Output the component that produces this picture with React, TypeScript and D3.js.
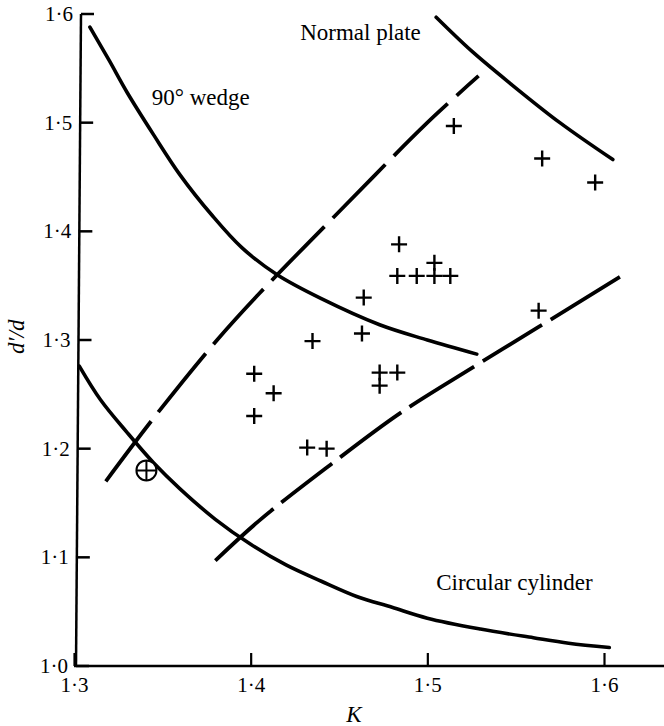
import React, { useEffect, useRef } from 'react';
import * as d3 from 'd3';

// K (x) against d'/d (y)
const xTicks = [1.3, 1.4, 1.5, 1.6];
const yTicks = [1.0, 1.1, 1.2, 1.3, 1.4, 1.5, 1.6];

const circularCylinder: [number, number][] = [
  [1.303, 1.276], [1.315, 1.245], [1.330, 1.215], [1.345, 1.187], [1.360, 1.163],
  [1.380, 1.135], [1.400, 1.112], [1.420, 1.093], [1.440, 1.078], [1.460, 1.064],
  [1.480, 1.054], [1.500, 1.044], [1.530, 1.034], [1.560, 1.026], [1.580, 1.021], [1.603, 1.017]
];
const wedge90: [number, number][] = [
  [1.309, 1.588], [1.320, 1.557], [1.330, 1.528], [1.345, 1.489], [1.360, 1.452],
  [1.378, 1.415], [1.395, 1.385], [1.415, 1.360], [1.440, 1.338], [1.473, 1.314],
  [1.500, 1.300], [1.528, 1.287]
];
const normalPlate: [number, number][] = [
  [1.505, 1.597], [1.525, 1.566], [1.547, 1.536], [1.575, 1.500], [1.605, 1.466]
];
const upperBound: [number, number][] = [
  [1.318, 1.170], [1.345, 1.228], [1.381, 1.300], [1.405, 1.343], [1.450, 1.418],
  [1.500, 1.500], [1.529, 1.543]
];
const lowerBound: [number, number][] = [
  [1.380, 1.097], [1.405, 1.134], [1.445, 1.185], [1.484, 1.232], [1.526, 1.275],
  [1.563, 1.312], [1.609, 1.358]
];
const measured: [number, number][] = [
  [1.515, 1.497], [1.565, 1.467], [1.595, 1.445], [1.484, 1.388], [1.504, 1.371],
  [1.483, 1.359], [1.494, 1.359], [1.504, 1.359], [1.513, 1.359],
  [1.464, 1.339], [1.463, 1.306], [1.435, 1.299], [1.563, 1.327],
  [1.402, 1.269], [1.413, 1.251], [1.402, 1.230],
  [1.473, 1.270], [1.483, 1.270], [1.473, 1.258],
  [1.432, 1.201], [1.443, 1.200]
];
const cylinderPoint: [number, number] = [1.341, 1.180];

const labels = [
  { text: '90° wedge', k: 1.344, d: 1.516 },
  { text: 'Normal plate', k: 1.428, d: 1.576 },
  { text: 'Circular cylinder', k: 1.505, d: 1.07 }
];

const W = 664;
const H = 726;
const serif = "'Liberation Serif', 'DejaVu Serif', serif";

export default function App() {
  const ref = useRef<SVGSVGElement>(null);

  useEffect(() => {
    const svg = d3.select(ref.current);
    svg.selectAll('*').remove();

    const x = d3.scaleLinear().domain([1.3, 1.6]).range([74, 604]);
    const y = d3.scaleLinear().domain([1.0, 1.6]).range([666, 14]);
    // the printed y axis leans very slightly
    const ax = d3.scaleLinear().domain([1.0, 1.6]).range([76, 81]);
    const fmt = (v: number) => v.toFixed(1).replace('.', '·');

    // x axis, runs off the right edge
    svg.append('line')
      .attr('x1', x(1.3)).attr('x2', W)
      .attr('y1', y(1.0)).attr('y2', y(1.0))
      .attr('stroke', '#000').attr('stroke-width', 2.5);
    const gx = svg.append('g')
      .attr('transform', `translate(0,${y(1.0)})`)
      .call(d3.axisBottom(x).tickValues(xTicks).tickSizeInner(-13).tickSizeOuter(0).tickPadding(11).tickFormat(fmt as any));
    gx.select('.domain').remove();
    gx.selectAll('.tick line').attr('stroke', '#000').attr('stroke-width', 2.2);

    // y axis
    svg.append('line')
      .attr('x1', ax(1.0)).attr('y1', y(1.0))
      .attr('x2', ax(1.6)).attr('y2', y(1.6))
      .attr('stroke', '#000').attr('stroke-width', 2.5);
    const gy = svg.append('g').selectAll('g')
      .data(yTicks)
      .enter().append('g')
      .attr('transform', (d) => `translate(${ax(d)},${y(d)})`);
    gy.append('line').attr('x2', 13).attr('stroke', '#000').attr('stroke-width', 2.5);
    gy.append('text')
      .attr('x', -8).attr('dy', '0.34em')
      .attr('text-anchor', 'end')
      .text(fmt);

    svg.selectAll('text')
      .attr('fill', '#000')
      .style('font-family', serif)
      .style('font-size', '21px');

    svg.append('text')
      .attr('x', x(1.4585)).attr('y', 722)
      .attr('text-anchor', 'middle')
      .style('font-family', serif).style('font-size', '23px').style('font-style', 'italic')
      .text('K');
    svg.append('text')
      .attr('transform', `translate(24,${y(1.303)}) rotate(-90)`)
      .attr('text-anchor', 'middle')
      .style('font-family', serif).style('font-size', '23px').style('font-style', 'italic')
      .text('d′/d');

    const line = d3.line<[number, number]>()
      .x((d) => x(d[0]))
      .y((d) => y(d[1]))
      .curve(d3.curveCatmullRom.alpha(0.5));

    [circularCylinder, wedge90, normalPlate].forEach((c) => {
      svg.append('path')
        .attr('d', line(c))
        .attr('fill', 'none')
        .attr('stroke', '#000')
        .attr('stroke-width', 3.6)
        .attr('stroke-linecap', 'round');
    });

    svg.append('path')
      .attr('d', line(upperBound))
      .attr('fill', 'none').attr('stroke', '#000').attr('stroke-width', 3.8)
      .attr('stroke-dasharray', '75 12');
    svg.append('path')
      .attr('d', line(lowerBound))
      .attr('fill', 'none').attr('stroke', '#000').attr('stroke-width', 3.8)
      .attr('stroke-dasharray', '78 10 64 10 76 10 76 10 70 10 300');

    svg.append('g').selectAll('path')
      .data(measured)
      .enter().append('path')
      .attr('transform', (d) => `translate(${x(d[0])},${y(d[1])})`)
      .attr('d', 'M-8,0H8M0,-8V8')
      .attr('stroke', '#000')
      .attr('stroke-width', 2.4);

    const cp = svg.append('g')
      .attr('transform', `translate(${x(cylinderPoint[0])},${y(cylinderPoint[1])})`);
    cp.append('circle').attr('r', 10).attr('fill', '#fff').attr('stroke', '#000').attr('stroke-width', 2);
    cp.append('path').attr('d', 'M-10,0H10M0,-10V10').attr('stroke', '#000').attr('stroke-width', 2);

    svg.append('g').selectAll('text')
      .data(labels)
      .enter().append('text')
      .attr('x', (d) => x(d.k))
      .attr('y', (d) => y(d.d))
      .attr('fill', '#000')
      .style('font-family', serif)
      .style('font-size', '23px')
      .text((d) => d.text);
  }, []);

  return (
    <svg ref={ref} width={W} height={H}
      style={{ position: 'absolute', left: 0, top: 0, background: '#fff' }} />
  );
}
